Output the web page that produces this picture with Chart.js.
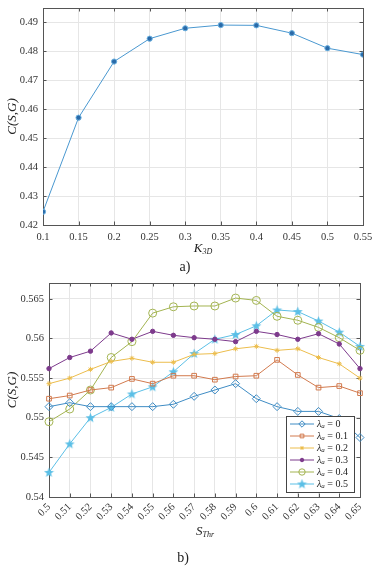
<!DOCTYPE html>
<html>
<head>
<meta charset="utf-8">
<script src="https://cdn.jsdelivr.net/npm/chart.js@4/dist/chart.umd.min.js"></script>
<style>
  body { margin: 0; background: #fff; width: 388px; height: 572px; overflow: hidden; position: relative; }
  .wrap { position: absolute; left: 0; width: 388px; }
  #wrapA { top: 0; height: 278px; }
  #wrapB { top: 278px; height: 294px; }
</style>
</head>
<body>
<div class="wrap" id="wrapA"><canvas id="chartA"></canvas></div>
<div class="wrap" id="wrapB"><canvas id="chartB"></canvas></div>
<script>
// a) C(S,G) vs K_3D
const k3d = [0.1, 0.15, 0.2, 0.25, 0.3, 0.35, 0.4, 0.45, 0.5, 0.55];
const cK3d = [0.4246, 0.4571, 0.4765, 0.4844, 0.4880, 0.4891, 0.4890, 0.4863, 0.4811, 0.4789];
const xTicksA = [0.1, 0.15, 0.2, 0.25, 0.3, 0.35, 0.4, 0.45, 0.5, 0.55];
const yTicksA = [0.42, 0.43, 0.44, 0.45, 0.46, 0.47, 0.48, 0.49];

// b) C(S,G) vs S_Thr for several lambda_a
const sThr = ['0.5', '0.51', '0.52', '0.53', '0.54', '0.55', '0.56', '0.57',
              '0.58', '0.59', '0.6', '0.61', '0.62', '0.63', '0.64', '0.65'];
const lam00 = [0.5514, 0.5519, 0.5514, 0.5514, 0.5514, 0.5514, 0.5517, 0.5527,
               0.5535, 0.5543, 0.5524, 0.5514, 0.5508, 0.5508, 0.5499, 0.5475];
const lam01 = [0.5524, 0.5528, 0.5535, 0.5538, 0.5549, 0.5543, 0.5553, 0.5553,
               0.5548, 0.5552, 0.5553, 0.5573, 0.5554, 0.5538, 0.5540, 0.5531];
const lam02 = [0.5543, 0.5550, 0.5561, 0.5571, 0.5575, 0.5570, 0.5570, 0.5580,
               0.5581, 0.5587, 0.5590, 0.5585, 0.5587, 0.5576, 0.5568, 0.5550];
const lam03 = [0.5562, 0.5576, 0.5584, 0.5607, 0.5599, 0.5609, 0.5604, 0.5601,
               0.5599, 0.5596, 0.5609, 0.5605, 0.5599, 0.5606, 0.5593, 0.5562];
const lam04 = [0.5495, 0.5511, 0.5535, 0.5576, 0.5596, 0.5632, 0.5640, 0.5641,
               0.5641, 0.5651, 0.5648, 0.5628, 0.5623, 0.5614, 0.5601, 0.5585];
const lam05 = [0.5431, 0.5467, 0.5500, 0.5513, 0.5530, 0.5539, 0.5558, 0.5581,
               0.5599, 0.5605, 0.5616, 0.5636, 0.5634, 0.5622, 0.5608, 0.5590];
const lamLabels = ['0', '0.1', '0.2', '0.3', '0.4', '0.5'];
const yTicksB = [0.54, 0.545, 0.55, 0.555, 0.56, 0.565];

const SERIF = "'Liberation Serif', 'DejaVu Serif', serif";
const gridCol = '#e6e6e6';

// filled five point star used for lambda_a = 0.5
function starImg(col) {
  const c = document.createElement('canvas');
  c.width = 11; c.height = 11;
  const g = c.getContext('2d');
  g.beginPath();
  for (let i = 0; i < 10; i++) {
    const r = i % 2 ? 2.2 : 5.2;
    const a = -Math.PI / 2 + i * Math.PI / 5;
    g.lineTo(5.5 + r * Math.cos(a), 5.8 + r * Math.sin(a));
  }
  g.closePath();
  g.fillStyle = col;
  g.fill();
  return c;
}

function subText(ctx, parts, cx, cy) {
  let w = 0;
  parts.forEach(p => { ctx.font = p.font; w += ctx.measureText(p.t).width; });
  let x = cx - w / 2;
  parts.forEach(p => {
    ctx.font = p.font;
    ctx.fillText(p.t, x, cy + (p.dy || 0));
    x += ctx.measureText(p.t).width;
  });
}

// matlab style box with inward ticks
const boxPlugin = {
  id: 'mbox',
  beforeDatasetsDraw(chart) {
    const { ctx, chartArea: a, scales } = chart;
    const x = scales.x, y = scales.y;
    ctx.save();
    ctx.strokeStyle = '#555';
    ctx.lineWidth = 1;
    ctx.beginPath();
    x.ticks.forEach((t, i) => {
      const px = Math.round(x.getPixelForTick(i)) + 0.5;
      ctx.moveTo(px, a.bottom); ctx.lineTo(px, a.bottom - 3.5);
      ctx.moveTo(px, a.top); ctx.lineTo(px, a.top + 3.5);
    });
    y.ticks.forEach((t, i) => {
      const py = Math.round(y.getPixelForTick(i)) + 0.5;
      ctx.moveTo(a.left, py); ctx.lineTo(a.left + 3.5, py);
      ctx.moveTo(a.right, py); ctx.lineTo(a.right - 3.5, py);
    });
    ctx.stroke();
    ctx.strokeRect(Math.round(a.left) + 0.5, Math.round(a.top) + 0.5,
                   Math.round(a.right - a.left), Math.round(a.bottom - a.top));
    ctx.restore();
  }
};

// x title with subscript and the a)/b) caption
const labelPlugin = {
  id: 'labels',
  afterDraw(chart, args, opts) {
    const ctx = chart.ctx;
    ctx.save();
    ctx.fillStyle = '#222';
    ctx.textBaseline = 'middle';
    subText(ctx, [
      { t: opts.main, font: 'italic 13px ' + SERIF },
      { t: opts.sub, font: 'italic 8px ' + SERIF, dy: 3 }
    ], opts.titleX, opts.titleY);
    subText(ctx, [{ t: opts.cap, font: '14px ' + SERIF }], opts.capX, opts.capY);
    ctx.restore();
  }
};

// legend box inside the plot, lower right
const legendPlugin = {
  id: 'boxLegend',
  afterDatasetsDraw(chart, args, opts) {
    if (!opts.show) return;
    const ctx = chart.ctx;
    const { left, top, width, rowH } = opts;
    const n = chart.data.datasets.length;
    const h = rowH * n + 4;
    ctx.save();
    ctx.fillStyle = '#fff';
    ctx.fillRect(left, top, width, h);
    ctx.strokeStyle = '#444';
    ctx.lineWidth = 1;
    ctx.strokeRect(left + 0.5, top + 0.5, width, h);
    chart.data.datasets.forEach((ds, i) => {
      const cy = top + 8 + i * rowH;
      ctx.strokeStyle = ds.borderColor;
      ctx.lineWidth = 1;
      ctx.beginPath();
      ctx.moveTo(left + 4, cy); ctx.lineTo(left + 28, cy);
      ctx.stroke();
      ctx.fillStyle = ds.pointBackgroundColor;
      ctx.strokeStyle = ds.borderColor;
      Chart.helpers.drawPoint(ctx, {
        pointStyle: ds.pointStyle, radius: ds.pointRadius * 0.8,
        rotation: 0, borderWidth: 1
      }, left + 16, cy);
      ctx.fillStyle = '#222';
      ctx.textBaseline = 'middle';
      const parts = [
        { t: 'λ', font: 'italic 10px ' + SERIF },
        { t: 'a', font: 'italic 7px ' + SERIF, dy: 2.5 },
        { t: ' = ' + lamLabels[i], font: '10px ' + SERIF }
      ];
      let x = left + 31;
      parts.forEach(p => {
        ctx.font = p.font;
        ctx.fillText(p.t, x, cy + (p.dy || 0));
        x += ctx.measureText(p.t).width;
      });
    });
    ctx.restore();
  }
};

function fixWidth(w) {
  return function (scale) { scale.width = w; scale.paddingTop = 0; scale.paddingBottom = 0; };
}
function fixHeight(h) {
  return function (scale) { scale.height = h; scale.paddingLeft = 0; scale.paddingRight = 0; };
}
function onlyTicks(list) {
  return function (scale) { scale.ticks = list.map(v => ({ value: v })); };
}

new Chart(document.getElementById('chartA'), {
  type: 'line',
  data: {
    datasets: [{
      data: k3d.map((v, i) => ({ x: v, y: cK3d[i] })),
      borderColor: '#4a98d0',
      borderWidth: 1,
      pointStyle: 'circle',
      pointRadius: 2.6,
      pointBackgroundColor: '#2a6aa8',
      pointBorderColor: '#6ab0e0',
      pointBorderWidth: 1
    }]
  },
  options: {
    responsive: true,
    maintainAspectRatio: false,
    animation: false,
    layout: { padding: { top: 8, right: 25, left: 0, bottom: 0 } },
    plugins: {
      legend: { display: false },
      tooltip: { enabled: false },
      labels: { main: 'K', sub: '3D', titleX: 203, titleY: 249, cap: 'a)', capX: 185, capY: 267 },
      boxLegend: { show: false }
    },
    scales: {
      x: {
        type: 'linear',
        min: 0.1,
        max: 0.55,
        afterBuildTicks: onlyTicks(xTicksA),
        afterFit: fixHeight(53),
        grid: { color: gridCol, drawTicks: false },
        border: { display: false },
        ticks: {
          padding: 6,
          color: '#333',
          font: { family: SERIF, size: 10.5 },
          maxRotation: 0,
          autoSkip: false,
          callback: v => String(Math.round(v * 100) / 100)
        }
      },
      y: {
        min: 0.42,
        max: 0.495,
        afterBuildTicks: onlyTicks(yTicksA),
        afterFit: fixWidth(43),
        grid: { color: gridCol, drawTicks: false },
        border: { display: false },
        title: {
          display: true,
          text: 'C(S,G)',
          color: '#222',
          font: { family: SERIF, size: 13, style: 'italic' },
          padding: { top: 5, bottom: 0 }
        },
        ticks: {
          padding: 5,
          color: '#333',
          font: { family: SERIF, size: 10.5 },
          callback: v => v.toFixed(2)
        }
      }
    }
  },
  plugins: [boxPlugin, labelPlugin, legendPlugin]
});

const seriesB = [
  { data: lam00, color: '#3f8cc4', style: 'rectRot', r: 4, fill: 'rgba(255,255,255,0)' },
  { data: lam01, color: '#d27a4e', style: 'rect', r: 3.3, fill: 'rgba(255,255,255,0)' },
  { data: lam02, color: '#ecbd4c', style: 'star', r: 2.5, fill: '#ecbd4c' },
  { data: lam03, color: '#7d3a8c', style: 'circle', r: 2.2, fill: '#7d3a8c' },
  { data: lam04, color: '#a3b451', style: 'circle', r: 4, fill: 'rgba(255,255,255,0)' },
  { data: lam05, color: '#5bbfe6', style: starImg('#5bbfe6'), r: 4, fill: '#5bbfe6' }
];

new Chart(document.getElementById('chartB'), {
  type: 'line',
  data: {
    labels: sThr,
    datasets: seriesB.map((s, i) => ({
      label: 'λa = ' + lamLabels[i],
      data: s.data,
      borderColor: s.color,
      borderWidth: 1,
      pointStyle: s.style,
      pointRadius: s.r,
      pointBackgroundColor: s.fill,
      pointBorderColor: s.color,
      pointBorderWidth: 1
    }))
  },
  options: {
    responsive: true,
    maintainAspectRatio: false,
    animation: false,
    layout: { padding: { top: 4, right: 28, left: 0, bottom: 0 } },
    plugins: {
      legend: { display: false },
      tooltip: { enabled: false },
      labels: { main: 'S', sub: 'Thr', titleX: 205, titleY: 254, cap: 'b)', capX: 183, capY: 280 },
      boxLegend: { show: true, left: 286, top: 138, width: 68, rowH: 12 }
    },
    scales: {
      x: {
        offset: false,
        afterFit: fixHeight(75),
        grid: { color: gridCol, drawTicks: false, offset: false },
        border: { display: false },
        ticks: {
          padding: 4,
          color: '#333',
          font: { family: SERIF, size: 10.5 },
          minRotation: 45,
          maxRotation: 45,
          autoSkip: false
        }
      },
      y: {
        min: 0.54,
        max: 0.567,
        afterBuildTicks: onlyTicks(yTicksB),
        afterFit: fixWidth(49),
        grid: { color: gridCol, drawTicks: false },
        border: { display: false },
        title: {
          display: true,
          text: 'C(S,G)',
          color: '#222',
          font: { family: SERIF, size: 13, style: 'italic' },
          padding: { top: 5, bottom: 0 }
        },
        ticks: {
          padding: 5,
          color: '#333',
          font: { family: SERIF, size: 10.5 },
          callback: v => String(Math.round(v * 1000) / 1000)
        }
      }
    }
  },
  plugins: [boxPlugin, labelPlugin, legendPlugin]
});
</script>
</body>
</html>
